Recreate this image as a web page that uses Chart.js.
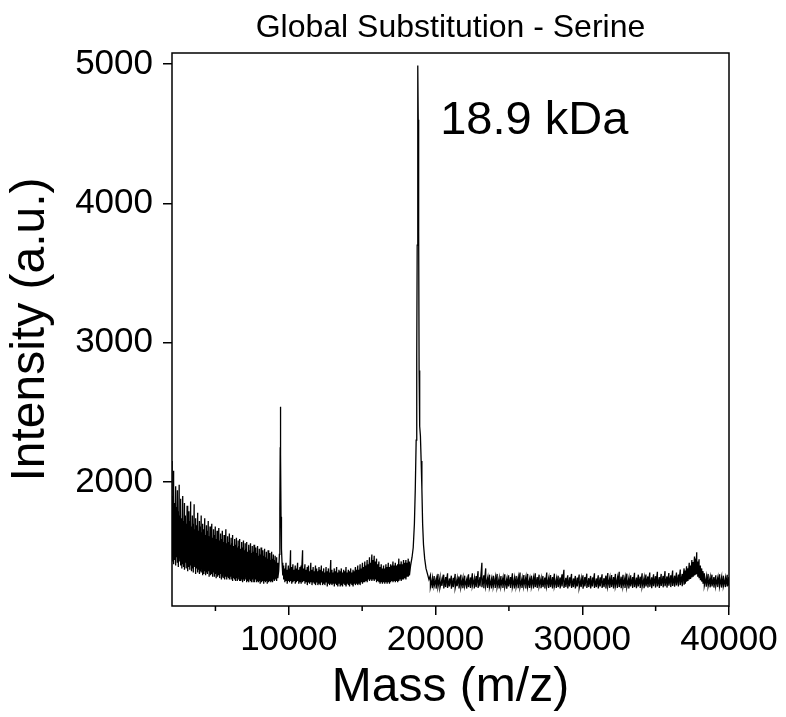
<!DOCTYPE html>
<html>
<head>
<meta charset="utf-8">
<script src="https://cdn.jsdelivr.net/npm/chart.js@4"></script>
<style>
  html, body { margin: 0; padding: 0; background: #fff; }
  canvas { display: block; }
</style>
</head>
<body>
<canvas id="c" width="786" height="717"></canvas>
<script>
// ---- data ----
// noise bands: [mass (Da), local max intensity, local min intensity]
const lowMassNoise = [
  [2050,2150,1430],[2110,1900,1450],[2170,2080,1410],[2230,1850,1440],[2290,1970,1400],[2350,1820,1460],[2410,1940,1420],[2470,1790,1390],
  [2530,1980,1430],[2590,1760,1400],[2650,1880,1440],[2710,1740,1380],[2770,1900,1410],[2830,1720,1390],[2890,1850,1370],[2950,1760,1420],
  [3010,1700,1380],[3070,1830,1400],[3130,1690,1360],[3190,1790,1390],[3250,1720,1370],[3310,1860,1400],[3370,1680,1360],[3430,1760,1380],
  [3490,1700,1350],[3550,1840,1390],[3610,1660,1360],[3670,1740,1340],[3730,1690,1380],[3790,1780,1350],[3850,1650,1370],[3910,1720,1340],
  [3970,1680,1360],[4030,1760,1350],[4090,1640,1330],[4150,1700,1370],[4210,1660,1340],[4270,1740,1360],[4330,1620,1330],[4390,1690,1350],
  [4450,1650,1340],[4510,1720,1360],[4570,1610,1320],[4630,1680,1350],[4690,1630,1330],[4750,1700,1340],[4810,1600,1320],[4870,1660,1350],
  [4930,1620,1320],[4990,1680,1340],[5050,1590,1310],[5110,1650,1340],[5170,1600,1320],[5230,1670,1330],[5290,1580,1310],[5350,1630,1340],
  [5410,1590,1300],[5470,1650,1320],[5530,1570,1310],[5590,1620,1330],[5650,1580,1300],[5710,1660,1320],[5770,1560,1300],[5830,1610,1320],
  [5890,1570,1310],[5950,1630,1300],[6010,1550,1320],[6070,1600,1300],[6130,1560,1310],[6190,1620,1290],[6250,1540,1310],[6310,1590,1300],
  [6370,1550,1290],[6430,1600,1310],[6490,1530,1290],[6550,1580,1300],[6610,1540,1290],[6670,1590,1310],[6730,1520,1290],[6790,1570,1300],
  [6850,1530,1280],[6910,1580,1300],[6970,1510,1290],[7030,1560,1300],[7090,1520,1280],[7150,1570,1300],[7210,1500,1290],[7270,1550,1280],
  [7330,1510,1300],[7390,1560,1290],[7450,1490,1280],[7510,1540,1300],[7570,1500,1280],[7630,1550,1290],[7690,1480,1280],[7750,1530,1300],
  [7810,1490,1280],[7870,1540,1290],[7930,1470,1280],[7990,1520,1290],[8050,1480,1270],[8110,1530,1290],[8170,1460,1280],[8230,1510,1290],
  [8290,1470,1270],[8350,1520,1290],[8410,1460,1280],[8470,1500,1290],[8530,1450,1270],[8590,1510,1290],[8650,1460,1280],[8710,1490,1290],
  [8770,1440,1280],[8830,1500,1290],[8890,1450,1280],[8950,1480,1300],[9010,1440,1290],[9070,1470,1300],[9130,1430,1290],[9190,1460,1300],
  [9250,1420,1310]
];
const midMassNoise = [
  [9650,1400,1300],[9730,1380,1280],[9810,1420,1290],[9890,1370,1270],[9970,1400,1290],[10050,1380,1280],[10120,1510,1290],[10200,1390,1270],
  [10280,1410,1280],[10360,1370,1290],[10440,1400,1270],[10520,1380,1280],[10600,1420,1290],[10680,1370,1270],[10760,1390,1280],[10840,1400,1270],
  [10940,1510,1280],[11020,1380,1290],[11100,1410,1270],[11180,1370,1280],[11260,1390,1260],[11340,1400,1280],[11420,1360,1270],[11500,1420,1280],
  [11580,1370,1260],[11660,1390,1280],[11740,1360,1270],[11820,1400,1260],[11900,1380,1280],[11980,1360,1260],[12060,1390,1270],[12140,1370,1260],
  [12220,1400,1280],[12300,1360,1260],[12380,1380,1270],[12460,1350,1260],[12540,1390,1280],[12620,1360,1250],[12700,1380,1270],[12780,1350,1260],
  [12860,1440,1270],[12940,1370,1260],[13020,1350,1270],[13100,1380,1250],[13180,1360,1270],[13260,1390,1260],[13340,1350,1250],[13420,1370,1270],
  [13500,1360,1250],[13580,1380,1260],[13660,1350,1250],[13740,1370,1270],[13820,1360,1260],[13900,1390,1250],[13980,1350,1270],[14060,1370,1260],
  [14140,1360,1250],[14220,1380,1270],[14300,1350,1260],[14380,1370,1250],[14460,1360,1270],[14540,1390,1260],[14620,1370,1270],[14700,1400,1260],
  [14780,1370,1270],[14860,1410,1260],[14940,1380,1280],[15020,1420,1270],[15100,1390,1280],[15180,1430,1280],[15260,1400,1290],[15340,1440,1280],
  [15420,1410,1300],[15500,1460,1290],[15580,1420,1300],[15660,1480,1290],[15740,1440,1300],[15820,1470,1290],[15900,1430,1300],[15980,1450,1280],
  [16060,1410,1290],[16140,1430,1280],[16220,1390,1270],[16300,1410,1280],[16380,1380,1270],[16460,1400,1280],[16540,1380,1270],[16620,1410,1280],
  [16700,1390,1270],[16780,1420,1280],[16860,1390,1270],[16940,1410,1280],[17020,1400,1290],[17100,1430,1280],[17180,1400,1290],[17260,1420,1280],
  [17340,1400,1290],[17420,1410,1280],[17500,1450,1290],[17580,1410,1300],[17660,1430,1290],[17740,1410,1300],[17820,1440,1300],[17900,1420,1310],
  [17980,1440,1300],[18060,1420,1320],[18140,1450,1320],[18220,1430,1330]
];
const highMassNoise = [
  [19650,1330,1245],[19780,1310,1238],[19910,1325,1252],[20040,1305,1235],[20170,1340,1248],[20300,1315,1240],[20430,1300,1255],[20560,1335,1236],
  [20690,1318,1246],[20820,1345,1240],[20950,1308,1250],[21080,1328,1234],[21210,1312,1246],[21340,1340,1240],[21470,1305,1252],[21600,1322,1236],
  [21730,1335,1245],[21860,1310,1238],[21990,1328,1250],[22120,1300,1235],[22250,1338,1246],[22380,1315,1240],[22510,1345,1252],[22640,1310,1236],
  [22770,1325,1246],[22900,1360,1240],[23030,1318,1250],[23160,1420,1245],[23290,1330,1238],[23420,1380,1250],[23550,1312,1240],[23680,1335,1246],
  [23810,1305,1236],[23940,1328,1250],[24070,1315,1240],[24200,1340,1245],[24330,1308,1236],[24460,1325,1250],[24590,1312,1240],[24720,1338,1246],
  [24850,1305,1234],[24980,1330,1250],[25110,1318,1240],[25240,1345,1246],[25370,1310,1236],[25500,1326,1250],[25630,1315,1238],[25760,1350,1246],
  [25890,1308,1240],[26020,1332,1252],[26150,1316,1236],[26280,1340,1246],[26410,1305,1240],[26540,1328,1250],[26670,1312,1236],[26800,1345,1246],
  [26930,1318,1240],[27060,1335,1250],[27190,1308,1238],[27320,1326,1246],[27450,1314,1236],[27580,1350,1250],[27710,1310,1240],[27840,1332,1246],
  [27970,1318,1236],[28100,1342,1250],[28230,1306,1240],[28360,1328,1246],[28490,1315,1236],[28620,1338,1250],[28750,1370,1240],[28880,1312,1246],
  [29010,1330,1236],[29140,1316,1250],[29270,1340,1240],[29400,1308,1246],[29530,1326,1236],[29660,1314,1250],[29790,1336,1240],[29920,1305,1246],
  [30050,1330,1234],[30180,1318,1250],[30310,1342,1240],[30440,1310,1246],[30570,1326,1236],[30700,1315,1250],[30830,1345,1240],[30960,1308,1246],
  [31090,1330,1236],[31220,1316,1250],[31350,1338,1240],[31480,1310,1246],[31610,1328,1236],[31740,1346,1250],[31870,1312,1240],[32000,1332,1246],
  [32130,1318,1236],[32260,1340,1250],[32390,1310,1240],[32520,1355,1246],[32650,1320,1238],[32780,1334,1250],[32910,1314,1240],[33040,1342,1246],
  [33170,1310,1236],[33300,1330,1250],[33430,1318,1240],[33560,1348,1246],[33690,1314,1238],[33820,1335,1250],[33950,1320,1240],[34080,1345,1248],
  [34210,1312,1238],[34340,1336,1250],[34470,1322,1242],[34600,1350,1248],[34730,1316,1238],[34860,1338,1252],[34990,1324,1242],[35120,1355,1250],
  [35250,1318,1240],[35380,1340,1254],[35510,1326,1244],[35640,1360,1252],[35770,1322,1242],[35900,1346,1256],[36030,1330,1246],[36160,1365,1254],
  [36290,1328,1248],[36420,1350,1258],[36550,1336,1250],[36680,1372,1260],[36810,1340,1252],[36940,1380,1262]
];
const dimerPeak = [
  [37020,1365,1270],[37110,1395,1285],[37200,1380,1290],[37290,1420,1300],[37380,1400,1305],[37470,1440,1315],[37560,1425,1320],[37650,1465,1330],
  [37740,1450,1335],[37800,1495,1340],[37870,1430,1320],[37960,1445,1310],[38050,1400,1295],[38140,1380,1285],[38230,1360,1270]
];
const tailNoise = [
  [38320,1345,1255],[38450,1320,1248],[38580,1340,1252],[38710,1315,1244],[38840,1335,1250],[38970,1318,1242],[39100,1330,1252],[39230,1312,1246],
  [39360,1338,1250],[39490,1316,1242],[39620,1328,1252],[39750,1310,1246],[39880,1334,1250],[39990,1318,1256]
];
// peak profiles: [mass (Da), intensity]
const halfMassPeak = [
  [9310,1360],[9360,1480],[9390,1800],[9415,2250],[9430,2540],[9445,2200],[9470,1750],[9500,1520],[9540,1420],[9590,1330]
];
const mainPeak = [
  [18300,1400],[18400,1460],[18480,1530],[18560,1700],[18620,1950],[18680,2300],[18720,2900],[18750,3700],[18780,4500],[18800,4990],
  [18820,4600],[18850,3800],[18880,2800],[18920,2400],[18970,2330],[19020,2150],[19070,1950],[19120,1700],[19180,1550],[19260,1450],
  [19350,1380],[19450,1340],[19550,1300]
];

const xTicks = [10000, 20000, 30000, 40000];
const xMinorTicks = [5000, 15000, 25000, 35000];
const yTicks = [2000, 3000, 4000, 5000];
const xRange = [2040, 40000];
const yRange = [1110, 5079];

const titleText = 'Global Substitution - Serine';
const peakLabel = '18.9 kDa';
const xTitle = 'Mass (m/z)';
const yTitle = 'Intensity (a.u.)';

// ---- build ----
const band = seg => seg.flatMap(([m, hi, lo]) => [{ x: m, y: hi }, { x: m, y: lo }]);
const profile = seg => seg.map(([m, i]) => ({ x: m, y: i }));
const spectrum = [].concat(
  band(lowMassNoise), profile(halfMassPeak), band(midMassNoise), profile(mainPeak),
  band(highMassNoise), band(dimerPeak), band(tailNoise)
);

const FONT = '"Liberation Sans", Arial, Helvetica, sans-serif';

const decor = {
  id: 'decor',
  afterDraw(chart) {
    const { ctx, chartArea: a, scales: { x, y } } = chart;
    ctx.save();
    ctx.strokeStyle = '#000';
    ctx.lineWidth = 1.5;
    ctx.strokeRect(a.left, a.top, a.right - a.left, a.bottom - a.top);
    ctx.beginPath();
    xMinorTicks.forEach(v => {
      const px = x.getPixelForValue(v);
      ctx.moveTo(px, a.bottom);
      ctx.lineTo(px, a.bottom + 5);
    });
    ctx.stroke();
    ctx.fillStyle = '#000';
    ctx.textBaseline = 'alphabetic';
    ctx.textAlign = 'center';
    ctx.font = '32px ' + FONT;
    ctx.fillText(titleText, (a.left + a.right) / 2, 37);
    ctx.textAlign = 'left';
    ctx.font = '47px ' + FONT;
    ctx.fillText(peakLabel, x.getPixelForValue(20320), y.getPixelForValue(4497));
    ctx.restore();
  }
};

new Chart(document.getElementById('c'), {
  type: 'line',
  data: {
    datasets: [{
      data: spectrum,
      borderColor: '#000',
      borderWidth: 1.3,
      pointRadius: 0,
      tension: 0,
      fill: false
    }]
  },
  options: {
    responsive: false,
    animation: false,
    events: [],
    parsing: false,
    layout: { padding: { top: 53, right: 57, left: 0, bottom: 0 } },
    plugins: { legend: { display: false }, tooltip: { enabled: false }, title: { display: false } },
    scales: {
      x: {
        type: 'linear',
        min: xRange[0], max: xRange[1],
        afterBuildTicks: s => { s.ticks = xTicks.map(v => ({ value: v })); },
        afterFit: s => { s.height = 111; },
        grid: { drawOnChartArea: false, drawTicks: true, tickLength: 9, color: '#000', lineWidth: 1.5 },
        border: { display: false },
        ticks: { color: '#000', font: { family: FONT, size: 35 }, padding: 4, maxRotation: 0, autoSkip: false, callback: v => String(v) },
        title: { display: true, text: xTitle, color: '#000', font: { family: FONT, size: 48 }, padding: { top: 0, bottom: 0 } }
      },
      y: {
        type: 'linear',
        min: yRange[0], max: yRange[1],
        afterBuildTicks: s => { s.ticks = yTicks.map(v => ({ value: v })); },
        afterFit: s => { s.width = 172; },
        grid: { drawOnChartArea: false, drawTicks: true, tickLength: 9, color: '#000', lineWidth: 1.5 },
        border: { display: false },
        ticks: { color: '#000', font: { family: FONT, size: 35 }, padding: 10, autoSkip: false, callback: v => String(v) },
        title: { display: true, text: yTitle, color: '#000', font: { family: FONT, size: 48 }, padding: { top: 2, bottom: 0 } }
      }
    }
  },
  plugins: [decor]
});
</script>
</body>
</html>
